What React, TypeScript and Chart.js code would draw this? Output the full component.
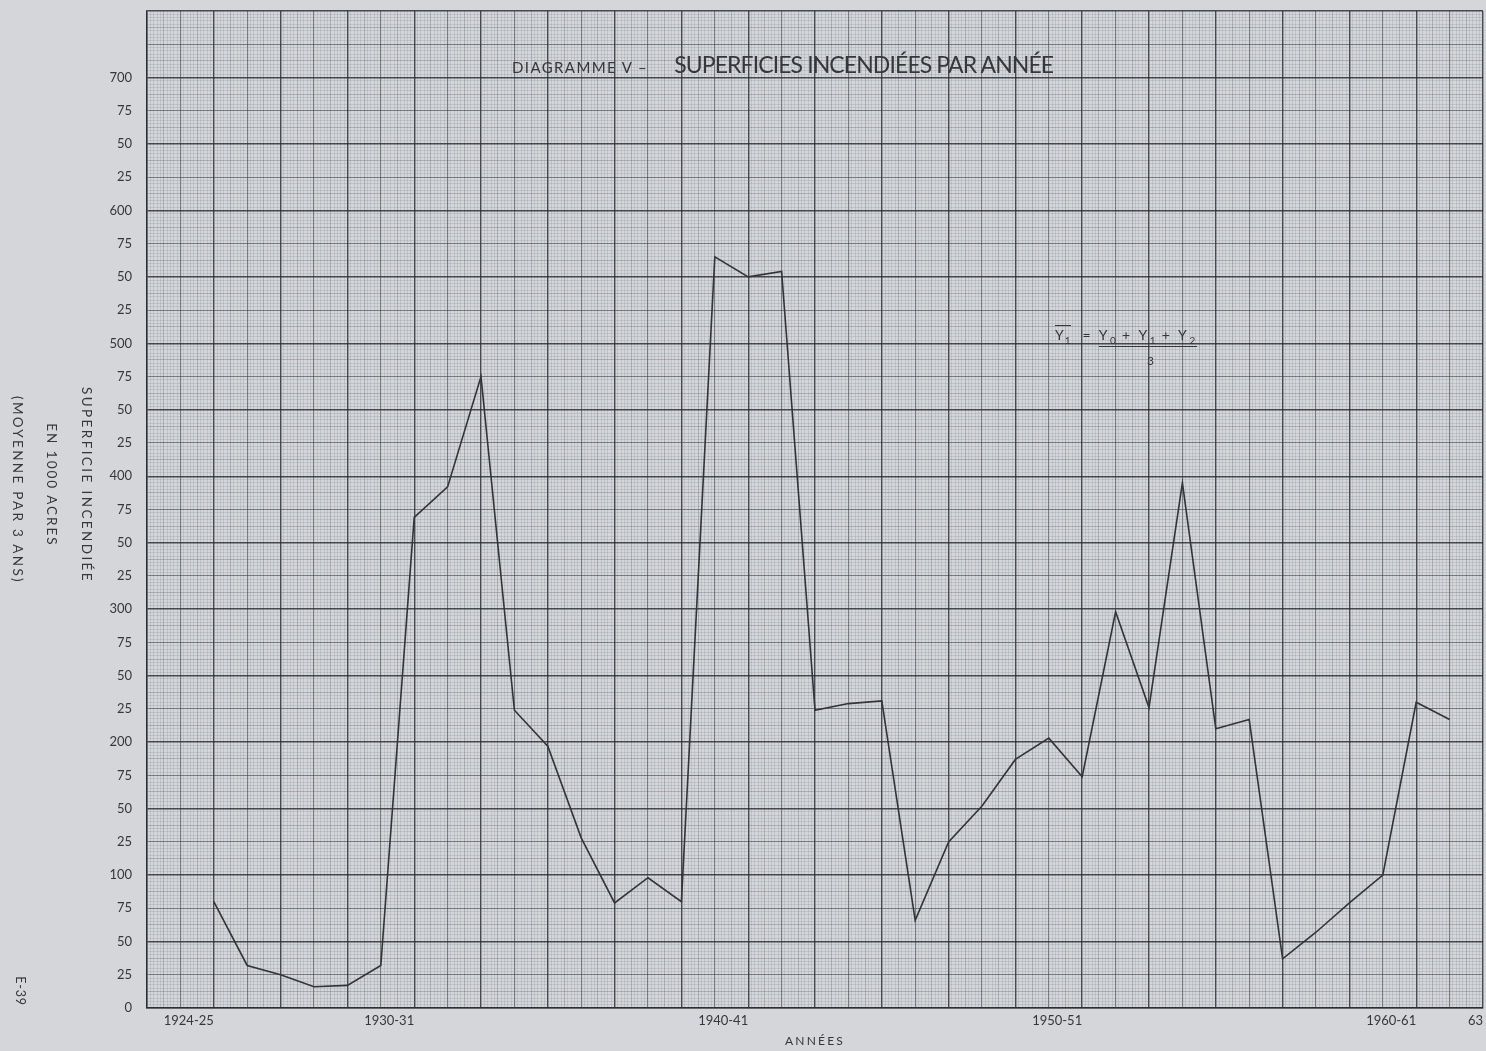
import React, { useEffect, useRef } from "react";
import { Chart, registerables } from "chart.js";

Chart.register(...registerables);

// ---- data ----
const SEASONS = [
  "1924-25", "1925-26", "1926-27", "1927-28", "1928-29", "1929-30",
  "1930-31", "1931-32", "1932-33", "1933-34", "1934-35", "1935-36",
  "1936-37", "1937-38", "1938-39", "1939-40", "1940-41", "1941-42",
  "1942-43", "1943-44", "1944-45", "1945-46", "1946-47", "1947-48",
  "1948-49", "1949-50", "1950-51", "1951-52", "1952-53", "1953-54",
  "1954-55", "1955-56", "1956-57", "1957-58", "1958-59", "1959-60",
  "1960-61", "1961-62",
];

// superficie incendiée, milliers d'acres (moyenne mobile sur 3 ans)
const AREA = [
  80, 32, 25, 16, 17, 32, 369, 392, 475, 224, 197, 128,
  79, 98, 80, 565, 550, 554, 224, 229, 231, 66, 125, 152,
  187, 203, 174, 298, 226, 395, 210, 217, 37, 57, 79, 100,
  230, 217,
];

const X_TICK_INDEX = [0, 6, 16, 26, 36, 38];
const X_TICK_LABELS = ["1924-25", "1930-31", "1940-41", "1950-51", "1960-61", "63"];

const Y_TICK_LABELS = [
  "0", "25", "50", "75", "100", "25", "50", "75", "200", "25",
  "50", "75", "300", "25", "50", "75", "400", "25", "50", "75",
  "500", "25", "50", "75", "600", "25", "50", "75", "700",
];

const X_MIN = -2;
const X_MAX = 38;
const Y_MIN = 0;
const Y_MAX = 750;

// ---- styles ----
const PAGE_BG = "#d4d6da";
const INK = "#36373a";
const G_DARK = "rgba(40,42,48,0.82)";
const G_MED = "rgba(55,58,64,0.58)";
const G_HALF = "rgba(80,84,92,0.38)";
const G_FINE = "rgba(100,105,115,0.25)";
const FONT = "Lato, 'Open Sans', sans-serif";

function gridStyle(k: number, big: number, mid: number, half: number) {
  if (k % big === 0) return { c: G_DARK, w: 1.4 };
  if (k % mid === 0) return { c: G_MED, w: 1.1 };
  if (k % half === 0) return { c: G_HALF, w: 0.8 };
  return { c: G_FINE, w: 0.7 };
}

const bgPlugin = {
  id: "pageBg",
  beforeDraw(chart: any) {
    const { ctx, width, height } = chart;
    ctx.save();
    ctx.fillStyle = PAGE_BG;
    ctx.fillRect(0, 0, width, height);
    ctx.restore();
  },
};

export default function App() {
  const ref = useRef<HTMLCanvasElement | null>(null);

  useEffect(() => {
    if (!ref.current) return;
    const points = AREA.map((v, i) => ({ x: i, y: v, season: SEASONS[i] }));
    const chart = new Chart(ref.current, {
      type: "line",
      data: {
        datasets: [
          {
            label: "Superficie incendiée",
            data: points,
            borderColor: "#333437",
            borderWidth: 1.6,
            pointRadius: 0,
            tension: 0,
            fill: false,
          },
        ],
      },
      options: {
        animation: false,
        responsive: false,
        maintainAspectRatio: false,
        layout: { padding: { left: 0, top: 11, right: 3, bottom: 0 } },
        plugins: {
          legend: { display: false },
          tooltip: { enabled: false },
        },
        scales: {
          x: {
            type: "linear",
            min: X_MIN,
            max: X_MAX,
            offset: false,
            afterFit(scale: any) {
              scale.height = 43;
              scale.paddingLeft = 0;
              scale.paddingRight = 0;
            },
            border: { display: true, color: G_DARK, width: 1.5 },
            grid: {
              drawTicks: false,
              color: (c: any) =>
                c.tick ? gridStyle(Math.round(c.tick.value * 10), 20, 10, 5).c : G_DARK,
              lineWidth: (c: any) =>
                c.tick ? gridStyle(Math.round(c.tick.value * 10), 20, 10, 5).w : 1.4,
            },
            ticks: {
              stepSize: 0.1,
              autoSkip: false,
              maxRotation: 0,
              minRotation: 0,
              align: "end",
              padding: 5,
              color: INK,
              font: { family: FONT, size: 13 },
              callback: (v: any) => {
                const k = Math.round(Number(v) * 10);
                if (k % 10 !== 0) return "";
                const idx = X_TICK_INDEX.indexOf(k / 10);
                return idx >= 0 ? X_TICK_LABELS[idx] : "";
              },
            },
            title: { display: false },
          },
          y: {
            type: "linear",
            min: Y_MIN,
            max: Y_MAX,
            afterFit(scale: any) {
              scale.width = 147;
              scale.paddingTop = 0;
              scale.paddingBottom = 0;
            },
            border: { display: true, color: G_DARK, width: 1.5 },
            grid: {
              drawTicks: false,
              color: (c: any) =>
                c.tick ? gridStyle(Math.round(c.tick.value / 2.5), 20, 10, 5).c : G_DARK,
              lineWidth: (c: any) =>
                c.tick ? gridStyle(Math.round(c.tick.value / 2.5), 20, 10, 5).w : 1.4,
            },
            ticks: {
              stepSize: 2.5,
              autoSkip: false,
              padding: 15,
              color: INK,
              font: { family: FONT, size: 13 },
              callback: (v: any) => {
                const k = Math.round(Number(v) / 2.5);
                if (k % 10 !== 0) return "";
                return Y_TICK_LABELS[k / 10] ?? "";
              },
            },
          },
        },
      },
      plugins: [bgPlugin],
    } as any);
    return () => chart.destroy();
  }, []);

  const rot = (cx: number, cy: number, len: number, size: number, spacing: number, text: string) => (
    <div
      style={{
        position: "absolute",
        left: cx - len / 2,
        top: cy - 10,
        width: len,
        height: 20,
        lineHeight: "20px",
        textAlign: "center",
        transform: "rotate(90deg)",
        transformOrigin: "50% 50%",
        fontFamily: FONT,
        fontSize: size,
        letterSpacing: spacing,
        color: INK,
        whiteSpace: "nowrap",
      }}
    >
      {text}
    </div>
  );

  const sub = { fontSize: 10, letterSpacing: 0 };

  return (
    <div
      style={{
        position: "absolute",
        left: 0,
        top: 0,
        width: 1486,
        height: 1051,
        background: PAGE_BG,
        overflow: "hidden",
      }}
    >
      <canvas ref={ref} width={1486} height={1051} style={{ display: "block", width: 1486, height: 1051 }} />

      {/* title */}
      <div
        style={{
          position: "absolute",
          left: 512,
          top: 50,
          whiteSpace: "nowrap",
          color: INK,
          fontFamily: FONT,
        }}
      >
        <span style={{ fontSize: 15, letterSpacing: 1.4 }}>DIAGRAMME V –</span>
        <span style={{ fontSize: 23, letterSpacing: -0.9, marginLeft: 26 }}>SUPERFICIES INCENDIÉES PAR ANNÉE</span>
      </div>

      {/* formula */}
      <div
        style={{
          position: "absolute",
          left: 1055,
          top: 326,
          whiteSpace: "nowrap",
          color: INK,
          fontFamily: FONT,
          fontSize: 14,
        }}
      >
        <span style={{ borderTop: "1px solid #36373a", paddingTop: 0, letterSpacing: 1 }}>
          Y<sub style={sub}>1</sub>
        </span>
        <span style={{ marginLeft: 12, marginRight: 8 }}>=</span>
        <span
          style={{
            display: "inline-block",
            borderBottom: "1px solid #36373a",
            letterSpacing: 2.6,
            paddingRight: 2,
          }}
        >
          Y<sub style={sub}>0</sub> + Y<sub style={sub}>1</sub> + Y<sub style={sub}>2</sub>
        </span>
      </div>
      <div
        style={{
          position: "absolute",
          left: 1147,
          top: 353,
          color: INK,
          fontFamily: FONT,
          fontSize: 12,
        }}
      >
        3
      </div>

      {/* x-axis caption */}
      <div
        style={{
          position: "absolute",
          left: 715,
          width: 200,
          top: 1033,
          textAlign: "center",
          color: INK,
          fontFamily: FONT,
          fontSize: 12,
          letterSpacing: 2.2,
        }}
      >
        ANNÉES
      </div>

      {/* rotated y-axis captions */}
      {rot(87, 485, 240, 13.5, 2.4, "SUPERFICIE INCENDIÉE")}
      {rot(52, 485, 180, 13.5, 2.0, "EN 1000 ACRES")}
      {rot(18, 490, 240, 13.5, 2.3, "(MOYENNE PAR 3 ANS)")}
      {rot(20, 991, 60, 12.5, 0.8, "E-39")}
    </div>
  );
}
